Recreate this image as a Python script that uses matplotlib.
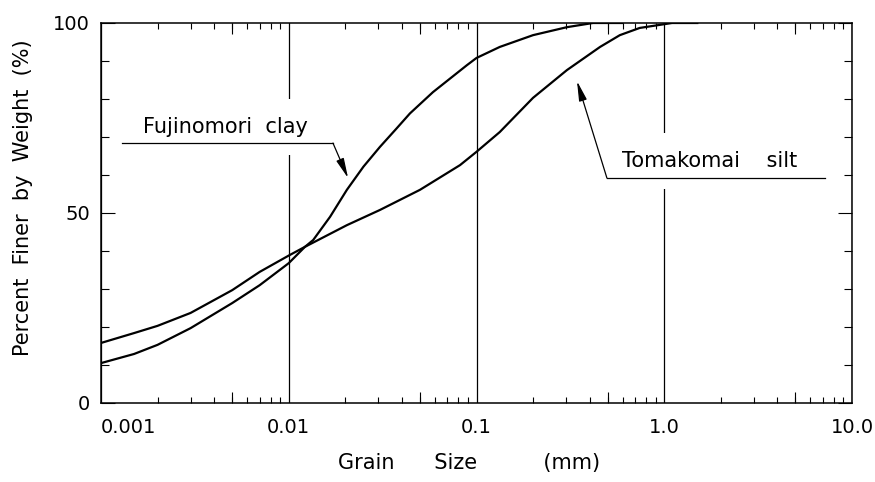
import matplotlib
matplotlib.use("Agg")
import matplotlib.pyplot as plt
from matplotlib.ticker import FixedLocator, NullFormatter

# grain size (mm) vs percent finer
clay_size = [0.001, 0.0015, 0.002, 0.003, 0.005, 0.007, 0.01, 0.0122, 0.0135,
             0.0166, 0.0204, 0.025, 0.0306, 0.0376, 0.0442, 0.0586, 0.0889,
             0.1, 0.133, 0.2, 0.303, 0.417, 0.6]
clay_pct = [10.5, 12.9, 15.3, 19.7, 26.3, 31.0, 36.8, 41.1, 42.9,
            49.0, 56.1, 62.2, 67.4, 72.3, 76.2, 81.8, 88.9,
            90.8, 93.7, 96.8, 98.9, 100.0, 100.0]

silt_size = [0.001, 0.0015, 0.002, 0.003, 0.005, 0.007, 0.01, 0.0122, 0.0204,
             0.0306, 0.05, 0.0817, 0.1, 0.133, 0.2, 0.303, 0.455,
             0.58, 0.74, 1.1, 1.5]
silt_pct = [15.8, 18.4, 20.3, 23.7, 29.7, 34.5, 38.8, 41.1, 46.8,
            50.8, 56.1, 62.6, 66.1, 71.3, 80.3, 87.6, 93.7,
            96.8, 98.7, 100.0, 100.0]

x_ticks = [0.001, 0.01, 0.1, 1.0, 10.0]
x_labels = ["0.001", "0.01", "0.1", "1.0", "10.0"]
y_ticks = [0, 50, 100]
y_minor = [10, 20, 30, 40, 60, 70, 80, 90]

plt.rcParams['font.family'] = ['DejaVu Sans']

fig = plt.figure(figsize=(8.75, 4.82), dpi=100)
ax = fig.add_axes([101 / 875, 1 - 403 / 482, 751 / 875, 380 / 482])

ax.plot(clay_size, clay_pct, color='black', lw=1.6, zorder=4)
ax.plot(silt_size, silt_pct, color='black', lw=1.6, zorder=4)

ax.set_xscale('log')
ax.set_xlim(0.001, 10)
ax.set_ylim(0, 100)

# x축: 10배 단위는 세로선, 나머지는 안쪽 짧은 눈금
ax.set_xticks(x_ticks)
ax.set_xticklabels(x_labels, fontsize=14)
ax.get_xticklabels()[0].set_ha('left')
minor_x = [m * d for d in [0.001, 0.01, 0.1, 1.0] for m in range(2, 10)]
ax.xaxis.set_minor_locator(FixedLocator(minor_x))
ax.xaxis.set_minor_formatter(NullFormatter())
ax.tick_params(axis='x', which='major', length=0, pad=11)
ax.tick_params(axis='x', which='minor', direction='in', length=4.5, width=0.8,
               top=True, bottom=True)
ax.grid(True, which='major', axis='x', color='black', lw=0.9)
five_ticks = [5 * d for d in [0.001, 0.01, 0.1, 1.0]]
trans = ax.get_xaxis_transform()
ax.vlines(five_ticks, 0, 0.028, color='black', lw=0.8, transform=trans)
ax.vlines(five_ticks, 0.972, 1, color='black', lw=0.8, transform=trans)

ax.set_yticks(y_ticks)
ax.set_yticklabels([str(v) for v in y_ticks], fontsize=14)
ax.yaxis.set_minor_locator(FixedLocator(y_minor))
ax.tick_params(axis='y', which='major', direction='in', length=10, width=0.8,
               left=True, right=True, pad=8)
ax.tick_params(axis='y', which='minor', direction='in', length=6, width=0.8,
               left=True, right=True)

for s in ax.spines.values():
    s.set_linewidth(1.1)

# 라벨과 화살표
arrow_style = dict(arrowstyle='-|>,head_length=1.0,head_width=0.2',
                   color='black', lw=0.9, shrinkA=0, shrinkB=0,
                   mutation_scale=12)

ax.text(0.00168, 72.6, "Fujinomori  clay", fontsize=15, ha='left', va='center',
        zorder=3, bbox=dict(boxstyle='square,pad=0.85', fc='white', ec='none'))
ax.plot([0.00129, 0.0172], [68.4, 68.4], color='black', lw=0.9, zorder=5)
ax.annotate("", xy=(0.0207, 59.2), xytext=(0.0172, 68.4),
            arrowprops=arrow_style, zorder=5)

ax.text(0.595, 63.7, "Tomakomai    silt", fontsize=15, ha='left', va='center',
        zorder=3, bbox=dict(boxstyle='square,pad=0.85', fc='white', ec='none'))
ax.plot([0.495, 7.18], [59.2, 59.2], color='black', lw=0.9, zorder=5)
ax.annotate("", xy=(0.343, 84.7), xytext=(0.495, 59.2),
            arrowprops=arrow_style, zorder=5)

fig.text(23 / 875, 1 - 198 / 482, "Percent  Finer  by  Weight  (%)", fontsize=15,
         rotation=90, ha='center', va='center')
fig.text(469 / 875, 1 - 463 / 482, "Grain      Size          (mm)", fontsize=15,
         ha='center', va='center')

fig.savefig("out.png", dpi=100)
